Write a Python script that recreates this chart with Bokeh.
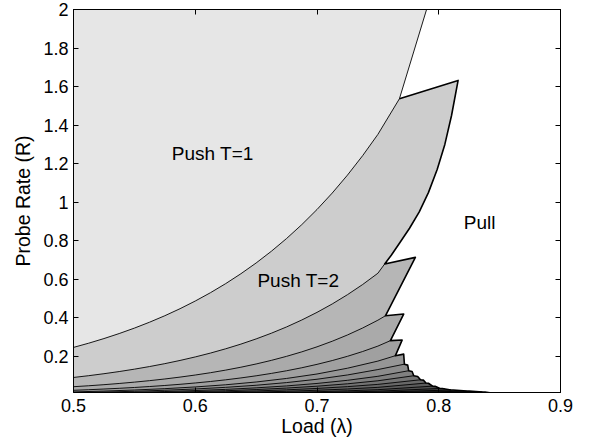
from bokeh.plotting import figure
from bokeh.models import FixedTicker, LinearAxis, Range1d, Label, CustomJSTickFormatter
from bokeh.embed import file_html
from bokeh.resources import INLINE

# ---- data ----
# fine x grid for the large upper boundaries, coarse grid for the thin lower ones
XF = [0.5, 0.5125, 0.525, 0.5375, 0.55, 0.5625, 0.575, 0.5875, 0.6, 0.6125, 0.625,
      0.6375, 0.65, 0.6625, 0.675, 0.6875, 0.7, 0.7125, 0.725, 0.7375, 0.75]
XS = [0.5, 0.525, 0.55, 0.575, 0.6, 0.625, 0.65, 0.675, 0.7, 0.725, 0.75]

# boundary between Push T and Push T+1 (T = 1..15)
B1 = [0.247, 0.2689, 0.2928, 0.3188, 0.3470, 0.3778, 0.4113, 0.4478, 0.4876, 0.5308, 0.5779,
      0.6292, 0.6850, 0.7457, 0.8119, 0.8839, 0.9624, 1.0477, 1.1407, 1.2419, 1.3521]
B2 = [0.091, 0.1003, 0.1105, 0.1217, 0.1341, 0.1477, 0.1627, 0.1793, 0.1975, 0.2176, 0.2398,
      0.2641, 0.2910, 0.3206, 0.3532, 0.3892, 0.4287, 0.4723, 0.5204, 0.5733, 0.6317]
B3 = [0.043, 0.0480, 0.0536, 0.0598, 0.0668, 0.0745, 0.0832, 0.0929, 0.1037, 0.1157, 0.1292,
      0.1442, 0.1610, 0.1797, 0.2006, 0.2239, 0.2499, 0.2790, 0.3114, 0.3477, 0.3881]
B4 = [0.0245, 0.0275, 0.0310, 0.0348, 0.0391, 0.0440, 0.0494, 0.0555, 0.0624, 0.0701, 0.0788,
      0.0886, 0.0996, 0.1120, 0.1258, 0.1414, 0.1590, 0.1787, 0.2008, 0.2257, 0.2537]
B5 = [0.016, 0.0203, 0.0259, 0.0329, 0.0418, 0.0531, 0.0675, 0.0859, 0.109, 0.139, 0.176]
B6 = [0.012, 0.0153, 0.0194, 0.0246, 0.0313, 0.0398, 0.0506, 0.0644, 0.0818, 0.104, 0.132]
B7 = [0.0088, 0.0112, 0.0142, 0.0181, 0.0230, 0.0292, 0.0371, 0.0472, 0.060, 0.0763, 0.097]
B8 = [0.0067, 0.0085, 0.0108, 0.0138, 0.0175, 0.0222, 0.0283, 0.0360, 0.0457, 0.0581, 0.0738]
B9 = [0.005, 0.0064, 0.0081, 0.0103, 0.0131, 0.0166, 0.0211, 0.0268, 0.0341, 0.0434, 0.0551]
B10 = [0.0036, 0.0046, 0.0058, 0.0074, 0.0094, 0.0120, 0.0152, 0.0193, 0.0246, 0.0312, 0.0397]
B11 = [0.0025, 0.0032, 0.0040, 0.0051, 0.0065, 0.0083, 0.0106, 0.0134, 0.0171, 0.0217, 0.0276]
B12 = [0.0018, 0.0023, 0.0029, 0.0037, 0.0047, 0.0060, 0.0076, 0.0097, 0.0123, 0.0156, 0.0198]
B13 = [0.0013, 0.0017, 0.0021, 0.0027, 0.0034, 0.0043, 0.0055, 0.0070, 0.0089, 0.0113, 0.0143]
B14 = [0.00095, 0.0012, 0.0015, 0.0020, 0.0025, 0.0032, 0.0040, 0.0051, 0.0065, 0.0082, 0.0105]
B15 = [0.0007, 0.0009, 0.0011, 0.0014, 0.0018, 0.0023, 0.0030, 0.0038, 0.0048, 0.0061, 0.0077]
BOUNDS = [(XF, B1), (XF, B2), (XF, B3), (XF, B4), (XS, B5), (XS, B6), (XS, B7), (XS, B8),
          (XS, B9), (XS, B10), (XS, B11), (XS, B12), (XS, B13), (XS, B14), (XS, B15)]

# end point of each boundary on the Pull frontier
JX = [0.7677, 0.7556, 0.7562, 0.7603, 0.7644, 0.7718, 0.7753, 0.7795, 0.785, 0.7895, 0.795, 0.801, 0.810, 0.823, 0.836]
JY = [1.537, 0.680, 0.411, 0.282, 0.204, 0.160, 0.126, 0.100, 0.079, 0.062, 0.046, 0.034, 0.026, 0.020, 0.0155]

# tip (upper-right corner) of Push T region, T = 2..16
PX = [0.8159, 0.7808, 0.7712, 0.7699, 0.7712, 0.7745, 0.7781, 0.7827, 0.7875, 0.7915, 0.797, 0.803, 0.812, 0.825, 0.838]
PY = [1.632, 0.714, 0.420, 0.285, 0.212, 0.155, 0.122, 0.096, 0.077, 0.061, 0.045, 0.0335, 0.026, 0.020, 0.0155]

# curved right edge of Push T=2 (from its tip down to its lower junction)
R2X = [0.8105, 0.8050, 0.7987, 0.7915, 0.7840, 0.7760, 0.7680, 0.7610]
R2Y = [1.450, 1.300, 1.170, 1.050, 0.950, 0.865, 0.790, 0.725]

# Push T=1 right edge meets the top of the axes here
R1_TOP = (0.790, 2.0)
TAIL_END = (0.842, 0.011)

GRAYS = [230, 205, 182, 170, 160, 150, 140, 128, 116, 104, 92, 80, 68, 56, 45, 35]

LABELS = [("Push T=1", 0.6144, 1.254), ("Push T=2", 0.6847, 0.594), ("Pull", 0.8336, 0.897)]

X_TICKS = [0.5, 0.6, 0.7, 0.8, 0.9]
Y_TICKS = [0.2, 0.4, 0.6, 0.8, 1, 1.2, 1.4, 1.6, 1.8, 2]

# ---- build geometry ----
env_x = [JX[0]]
env_y = [JY[0]]
p_index = {}
n_regions = len(GRAYS)
for T in range(2, n_regions + 1):
    p_index[T] = len(env_x)
    env_x.append(PX[T - 2])
    env_y.append(PY[T - 2])
    if T == 2:
        env_x += R2X
        env_y += R2Y
    if T - 1 < len(JX):
        env_x.append(JX[T - 1])
        env_y.append(JY[T - 1])
env_x.append(TAIL_END[0])
env_y.append(TAIL_END[1])

xs_list, ys_list, colors = [], [], []
for T in range(1, n_regions + 1):
    if T == 1:
        px = [0.5, 0.5, R1_TOP[0], JX[0]] + env_x[1:] + [TAIL_END[0]]
        py = [0.0, 2.0, R1_TOP[1], JY[0]] + env_y[1:] + [0.0]
    else:
        gx, b = BOUNDS[T - 2]
        px = [0.5] + gx + [JX[T - 2]] + env_x[p_index[T]:] + [TAIL_END[0]]
        py = [0.0] + b + [JY[T - 2]] + env_y[p_index[T]:] + [0.0]
    xs_list.append(px)
    ys_list.append(py)
    g = GRAYS[T - 1]
    colors.append("#%02x%02x%02x" % (g, g, g))

# ---- figure ----
p = figure(width=589, height=445, output_backend="svg", toolbar_location=None,
           x_range=Range1d(0.5, 0.9), y_range=Range1d(0.013, 2.0),
           min_border_left=73, min_border_right=29, min_border_top=9, min_border_bottom=53)
p.xgrid.visible = False
p.ygrid.visible = False
p.background_fill_color = "white"
p.border_fill_color = "white"
p.outline_line_color = "black"
p.outline_line_width = 1

p.patches(xs_list, ys_list, fill_color=colors, line_color=None)

for T in range(1, len(BOUNDS) + 1):
    gx, b = BOUNDS[T - 1]
    p.line(gx + [JX[T - 1]], b + [JY[T - 1]], line_color="black", line_width=0.9)
p.line([R1_TOP[0], JX[0]], [R1_TOP[1], JY[0]], line_color="black", line_width=0.9)
p.line(env_x, env_y, line_color="black", line_width=1.6, line_join="round")

FONT = "Liberation Sans"
for text, x, y in LABELS:
    p.add_layout(Label(x=x, y=y, text=text, text_align="center", text_baseline="middle",
                       text_font=FONT, text_font_size="19px", text_color="black"))

fmt = CustomJSTickFormatter(code="return tick.toString();")
blank = CustomJSTickFormatter(code="return '';")

def style(ax, ticks, formatter, labels=True):
    ax.ticker = FixedTicker(ticks=ticks)
    ax.formatter = formatter
    ax.axis_line_color = "black"
    ax.major_tick_line_color = "black"
    ax.major_tick_in = 5
    ax.major_tick_out = 0
    ax.minor_tick_line_color = None
    ax.major_label_text_font = FONT
    ax.major_label_text_font_size = "18px" if labels else "1px"
    ax.major_label_text_color = "black"
    ax.axis_label_text_font = FONT
    ax.axis_label_text_font_style = "normal"
    ax.axis_label_text_font_size = "19.5px"
    ax.axis_label_text_color = "black"

xa = p.xaxis[0]
ya = p.yaxis[0]
style(xa, X_TICKS, fmt)
style(ya, Y_TICKS, fmt)
xa.major_label_standoff = 6
ya.major_label_standoff = 5
xa.axis_label = "Load (λ)"
ya.axis_label = "Probe Rate (R)"
xa.axis_label_standoff = 0
ya.axis_label_standoff = 6

top = LinearAxis()
style(top, X_TICKS, blank, labels=False)
top.major_label_standoff = 0
p.add_layout(top, "above")
right = LinearAxis()
style(right, Y_TICKS, blank, labels=False)
right.major_label_standoff = 0
p.add_layout(right, "right")

open("out.html", "w").write(file_html(p, INLINE))
